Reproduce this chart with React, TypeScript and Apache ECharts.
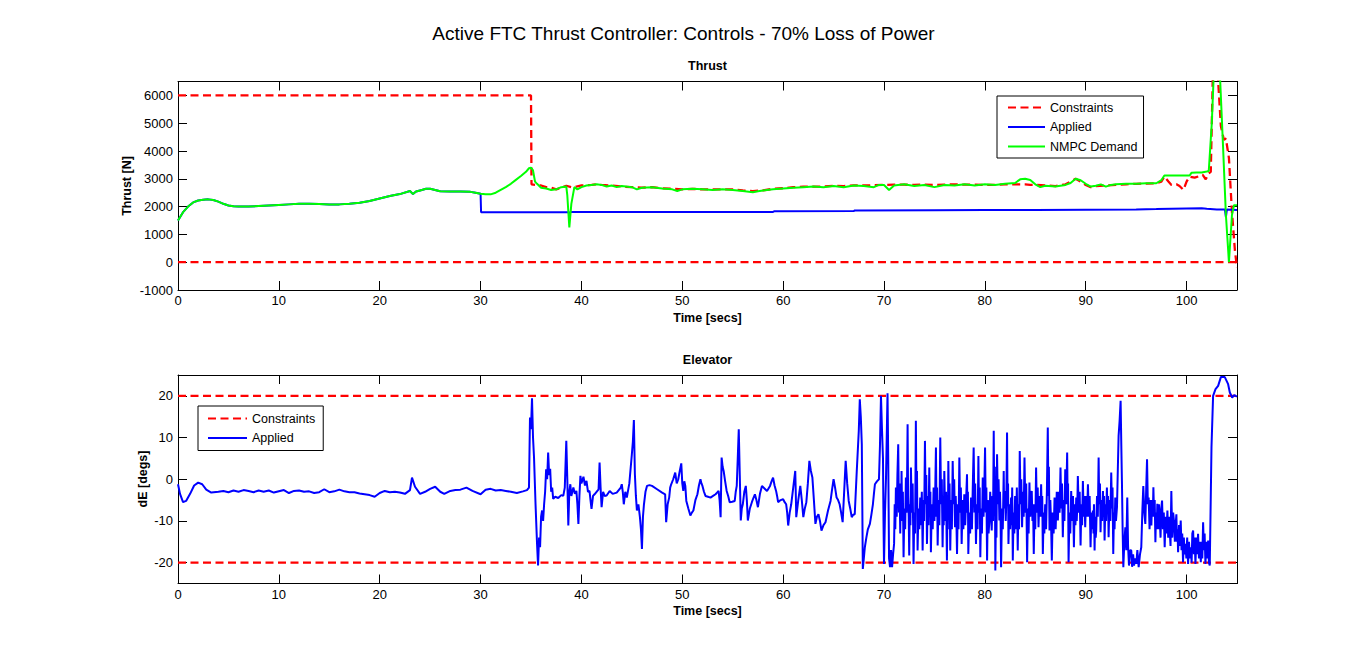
import React, { useEffect, useRef } from "react";
import * as echarts from "echarts";

const MAIN_TITLE = "Active FTC Thrust Controller: Controls - 70% Loss of Power";
const THRUST_TITLE = "Thrust";
const ELEVATOR_TITLE = "Elevator";
const X_NAME = "Time [secs]";
const THRUST_Y_NAME = "Thrust [N]";
const ELEV_Y_NAME = "dE [degs]";
const LEGEND_TOP = ["Constraints", "Applied", "NMPC Demand"];
const LEGEND_BOTTOM = ["Constraints", "Applied"];

const X_MIN = 0;
const X_MAX = 105;
const THRUST_MIN = -1000;
const THRUST_MAX = 6500;
const ELEV_MIN = -25;
const ELEV_MAX = 25;

// Thrust: NMPC demand [t, N]
const thrustDemand: [number, number][] = [
  [0, 1500], [0.5, 1800], [1, 2000], [1.5, 2150], [2, 2220], [2.5, 2250], [3, 2260], [3.5, 2240],
  [4, 2180], [4.5, 2100], [5, 2040], [5.5, 2010], [6, 2000], [7, 2000], [8, 2020], [9, 2040],
  [10, 2060], [11, 2080], [12, 2100], [13, 2100], [14, 2090], [15, 2080], [16, 2080], [17, 2100],
  [18, 2140], [19, 2200], [20, 2290], [21, 2380], [22, 2450], [23, 2560], [23.3, 2450], [23.6, 2540],
  [24, 2580], [24.6, 2640], [25, 2640], [25.5, 2600], [26, 2550], [27, 2540], [28, 2540], [29, 2530],
  [29.5, 2500], [30, 2460], [30.5, 2440], [31, 2440], [31.5, 2500], [32, 2600], [32.5, 2700], [33, 2820],
  [33.5, 2960], [34, 3100], [34.5, 3250], [34.8, 3380], [35, 3400], [35.2, 3300], [35.4, 2900], [35.6, 2820],
  [36, 2680], [36.5, 2650], [37, 2600], [37.5, 2620], [38, 2700], [38.5, 2720], [38.6, 2400], [38.8, 1250],
  [39, 2100], [39.3, 2700], [39.6, 2620], [40, 2700], [40.5, 2760], [41, 2780], [41.5, 2800], [42, 2780],
  [42.5, 2720], [43, 2760], [43.5, 2700], [44, 2740], [45, 2700], [45.5, 2620], [46, 2680], [47, 2700],
  [48, 2650], [49, 2620], [49.5, 2560], [50, 2620], [51, 2640], [52, 2620], [53, 2600], [54, 2620],
  [55, 2600], [56, 2560], [57, 2520], [57.5, 2550], [58, 2580], [59, 2620], [60, 2650], [61, 2680],
  [62, 2700], [63, 2720], [64, 2700], [65, 2740], [66, 2700], [67, 2760], [68, 2740], [69, 2700],
  [69.5, 2780], [70, 2780], [70.5, 2600], [71, 2760], [72, 2800], [73, 2740], [74, 2780], [75, 2700],
  [76, 2780], [77, 2760], [78, 2800], [79, 2760], [80, 2800], [81, 2780], [82, 2820], [83, 2850],
  [83.5, 2980], [84, 3000], [84.5, 2960], [85, 2800], [85.5, 2700], [86, 2750], [87, 2720], [88, 2780],
  [88.5, 2850], [89, 3000], [89.5, 2950], [90, 2820], [90.5, 2720], [91, 2750], [91.5, 2800], [92, 2720],
  [92.5, 2780], [93, 2800], [94, 2820], [95, 2820], [96, 2840], [97, 2840], [97.5, 2950], [97.8, 3120],
  [98, 3120], [99, 3120], [100, 3120], [100.3, 3120], [100.5, 3220], [101, 3230], [101.5, 3230], [102, 3260],
  [102.2, 3280], [102.5, 5000], [102.7, 6800], [103.3, 6800], [103.6, 4300], [103.9, 1700], [104.2, 0],
  [104.5, 1700], [104.7, 2050], [105, 2050],
];

// Thrust: upper constraint [t, N]
const thrustUpper: [number, number][] = [
  [0, 6000], [35, 6000], [35.05, 2800], [35.5, 2780], [36, 2760], [36.5, 2700], [37, 2680], [37.5, 2620],
  [38, 2680], [38.5, 2750], [39, 2700], [39.5, 2720], [40, 2760], [41, 2780], [41.5, 2800], [42, 2780],
  [43, 2760], [44, 2720], [45, 2700], [46, 2680], [47, 2700], [48, 2660], [49, 2640], [50, 2620],
  [51, 2640], [52, 2620], [53, 2620], [54, 2620], [55, 2620], [56, 2580], [57, 2560], [58, 2580],
  [59, 2640], [60, 2660], [61, 2700], [62, 2720], [63, 2720], [64, 2720], [65, 2750], [66, 2740],
  [67, 2760], [68, 2760], [69, 2770], [70, 2780], [71, 2790], [72, 2790], [73, 2780], [74, 2790],
  [75, 2780], [76, 2790], [77, 2800], [78, 2790], [79, 2790], [80, 2780], [81, 2780], [82, 2800],
  [83, 2800], [84, 2800], [84.5, 2780], [85, 2780], [86, 2760], [87, 2740], [88, 2800], [88.5, 2900],
  [89, 3000], [89.5, 2900], [90, 2780], [90.5, 2700], [91, 2740], [92, 2760], [93, 2780], [94, 2800],
  [95, 2820], [96, 2830], [97, 2840], [97.5, 2900], [97.8, 3080], [98.2, 2900], [98.5, 2780], [99, 2800],
  [99.3, 2740], [99.7, 2600], [100, 2900], [100.3, 3080], [100.8, 3040], [101.3, 3100], [101.6, 3140],
  [101.9, 2980], [102.2, 3200], [102.4, 3250], [102.6, 6700], [103.1, 6700], [103.4, 4900], [103.7, 4400],
  [103.9, 4450], [104.2, 3750], [104.5, 1800], [104.8, 400], [105, -200],
];

// Thrust: lower constraint [t, N]
const thrustLower: [number, number][] = [[0, 0], [105, 0]];

// Thrust: applied after t = 30 s (before that it equals the demand)
const thrustAppliedSwitch = 30;
const thrustAppliedAfter: [number, number][] = [
  [30.05, 1800], [35, 1800], [38.7, 1800], [38.8, 1740], [38.9, 1810], [45, 1810], [59, 1810],
  [59.1, 1830], [67, 1840], [67.1, 1860], [75, 1870], [80, 1880], [85, 1880], [90, 1890], [95, 1900],
  [97, 1910], [100, 1930], [101.5, 1940], [102, 1920], [103, 1900], [103.8, 1900], [103.9, 1620],
  [104, 1900], [105, 1880],
];

// Elevator: applied deflection, 0 – 70.5 s [t, deg]
const elevAppliedEarly: [number, number][] = [
  [0, -1.2], [0.2, -3.5], [0.5, -5.5], [0.8, -5.2], [1.2, -3.5], [1.6, -1.5], [2.0, -0.8], [2.4, -1.2],
  [2.8, -2.5], [3.3, -3.2], [4, -3.0], [4.5, -2.8], [5, -3.1], [5.5, -2.7], [6, -3.0], [6.5, -2.6],
  [7, -2.8], [7.5, -3.1], [8, -2.7], [8.5, -3.0], [9, -2.7], [9.5, -3.2], [10, -2.9], [10.5, -2.6],
  [11, -3.3], [11.5, -2.8], [12, -2.7], [12.5, -3.0], [13, -2.9], [13.5, -3.3], [14, -3.1], [14.5, -2.4],
  [15, -3.1], [15.5, -2.9], [16, -2.5], [16.5, -2.9], [17, -3.1], [17.5, -3.1], [18, -3.4], [18.5, -3.6],
  [19, -3.8], [19.5, -4.2], [20, -3.3], [20.5, -2.8], [21, -3.1], [21.5, -3.0], [22, -3.2], [22.5, -3.5],
  [23, -2.6], [23.2, 0.4], [23.5, -1.8], [24, -3.5], [24.5, -3.0], [25, -2.3], [25.5, -1.8], [26, -3.0],
  [26.4, -3.5], [27, -2.8], [27.5, -2.6], [28, -2.5], [28.6, -2.0], [29.2, -2.8], [30, -3.6], [30.5, -2.5],
  [31, -2.3], [31.5, -2.7], [32, -2.6], [32.5, -2.8], [33, -3.0], [33.6, -3.3], [34.2, -2.9], [34.6, -2.6],
  [34.8, -2.0], [34.9, 14.8], [35.0, 12], [35.1, 19.4], [35.2, 10], [35.3, 5.2], [35.45, -6], [35.6, -15.5],
  [35.7, -20.7], [35.8, -14], [35.9, -16.3], [36.0, -9], [36.1, -7.5], [36.2, -10], [36.3, -6], [36.4, -3],
  [36.5, 2.4], [36.6, 0], [36.7, 6.4], [36.8, 1], [36.9, 2.5], [37.0, -3], [37.1, -2], [37.2, -4.7],
  [37.4, -4.2], [37.7, -4.5], [38.0, -3.8], [38.2, -4], [38.35, -2], [38.5, 9.2], [38.6, 0], [38.7, -11.1],
  [38.8, -3], [38.9, -1.2], [39.0, -4], [39.2, -2], [39.35, -3.5], [39.5, -2.8], [39.6, -6], [39.7, -10.7],
  [39.8, -4], [39.9, 0.8], [40.0, -1], [40.2, 0.6], [40.35, -1.5], [40.5, -0.4], [40.65, -3], [40.8, -2.8],
  [40.9, -5], [41, -7.1], [41.15, -4], [41.3, -3.6], [41.5, -3], [41.7, -2.4], [41.8, 4], [41.9, -2],
  [42, -6.7], [42.15, -3], [42.3, -4], [42.5, -3.9], [42.8, -2.8], [43.1, -3.5], [43.5, -3.2], [43.9, -2],
  [44, -1.2], [44.1, -3], [44.2, -6], [44.35, -3], [44.5, -4.4], [44.75, -1], [45, 6], [45.1, 9],
  [45.2, 14.2], [45.3, 1.2], [45.4, -4], [45.5, -7.5], [45.65, -6], [45.8, -9.1], [45.9, -12], [46, -16.7],
  [46.1, -9], [46.2, -6], [46.35, -3], [46.5, -1.6], [46.75, -1.4], [47, -1.6], [47.5, -2.4], [48, -3.2],
  [48.3, -3.6], [48.4, -10.3], [48.55, -6], [48.7, -4.4], [48.8, -2], [48.9, -1.2], [49.1, 0], [49.3, 1.6],
  [49.45, -1], [49.6, 0], [49.75, 2], [49.9, 3.8], [50.0, -1], [50.1, -2.8], [50.2, -0.5], [50.3, -1.6],
  [50.4, -5.2], [50.6, -7], [50.8, -8.7], [50.95, -8], [51.1, -7.5], [51.3, -5], [51.5, -3.6], [51.65, -1.5],
  [51.8, 0], [51.9, -1], [52, -1.6], [52.15, -3], [52.3, -4], [52.55, -4.2], [52.8, -4.4], [53.05, -4],
  [53.3, -3.6], [53.45, -3.2], [53.6, -2.8], [53.7, -5], [53.8, -9.1], [53.85, -2], [53.9, 5.2], [54.0, 3],
  [54.1, 2], [54.25, -0.5], [54.4, -2.8], [54.55, -4], [54.7, -5.5], [54.95, -5.4], [55.2, -5.2], [55.3, -3],
  [55.4, -1.6], [55.5, 5], [55.6, 12], [55.7, 1], [55.8, -9.9], [55.9, -7], [56, -6], [56.15, -3],
  [56.3, -1.6], [56.4, -5], [56.5, -9.9], [56.7, -7], [56.9, -5.5], [57.05, -4.5], [57.2, -3.6], [57.35, -5],
  [57.5, -6.7], [57.7, -3.5], [57.9, -1.6], [58.15, -2.2], [58.4, -2.8], [58.55, -2.2], [58.7, -1.6],
  [58.85, -0.5], [59, 0.4], [59.15, -1.5], [59.3, -2.8], [59.4, -4], [59.5, -5.5], [59.75, -5], [60, -4.8],
  [60.15, -5.5], [60.3, -6], [60.4, -8], [60.5, -11.1], [60.65, -8], [60.8, -6], [61.0, -2], [61.2, 2],
  [61.25, -3], [61.3, -9.1], [61.5, -5], [61.7, -1.6], [61.85, -5], [62, -9.1], [62.15, -7], [62.3, -5.5],
  [62.45, -1], [62.6, 4.4], [62.75, 2], [62.9, 0.4], [63.05, -5], [63.2, -10.7], [63.35, -9], [63.5, -8.4],
  [63.65, -10], [63.8, -12.3], [64.0, -11], [64.2, -10.3], [64.45, -7.5], [64.7, -5.2], [64.85, -2.5],
  [65, 0], [65.15, -2], [65.3, -4.4], [65.45, -5], [65.6, -6], [65.75, -8], [65.9, -10.3], [66.05, -3],
  [66.2, 4.4], [66.35, -1], [66.5, -5.2], [66.65, -7], [66.8, -9.1], [66.95, -8.5], [67.1, -8.4], [67.3, 2],
  [67.5, 11.6], [67.6, 19.2], [67.7, 15], [67.8, 8.4], [67.9, -21.5], [68.0, -19], [68.1, -16.3],
  [68.25, -14], [68.4, -12], [68.6, -10.7], [68.75, -8.5], [68.9, -6], [69.0, -3.5], [69.1, -1.2],
  [69.3, -0.5], [69.5, 0], [69.6, 8], [69.7, 20], [69.8, 12], [69.9, 5], [69.95, -10], [70, -20.3],
  [70.1, -8], [70.2, 0.5], [70.3, 14], [70.35, 20.6], [70.42, 5],
];

// Elevator: applied deflection, dense oscillation 70.5 – 102.3 s [t, deg]
const elevAppliedNoisy: [number, number][] = [
  [70.5, -19], [70.6, -21.1], [70.7, -17], [70.8, -21.1], [70.9, -18],
  [71.0, -15.5], [71.06, -6], [71.12, -12], [71.18, -2], [71.26, -9], [71.33, 1], [71.41, 8.4], [71.48, -8],
  [71.54, -1], [71.61, -13], [71.65, -5], [71.7, -10], [71.74, 2], [71.8, -9], [71.87, -3], [71.94, -18.7],
  [72.02, -7], [72.1, -12], [72.17, 0.4], [72.23, -8], [72.28, -2], [72.34, 13.2], [72.39, -4], [72.45, -9],
  [72.5, -18.3], [72.56, -6], [72.62, -11], [72.67, 2.8], [72.76, -8], [72.84, -1], [72.93, -20.3],
  [73.0, -8], [73.08, -13], [73.16, 14], [73.22, -5], [73.27, 2], [73.33, -17.1], [73.42, -7], [73.5, -12],
  [73.59, -4.4], [73.67, -11], [73.75, -3], [73.83, -17.1], [73.91, -5], [73.98, -10], [74.06, 9.2],
  [74.13, -6], [74.19, 1], [74.26, -15.5], [74.34, -4], [74.41, -11], [74.49, 2.8], [74.54, -8], [74.6, -3],
  [74.65, -17.5], [74.74, -6], [74.83, -12], [74.92, -2], [75.0, -10], [75.07, -4], [75.15, 7.6],
  [75.21, -9], [75.26, -2], [75.32, -15.9], [75.41, -5], [75.49, -11], [75.58, 10], [75.66, -6], [75.73, 0],
  [75.81, -16.3], [75.87, -6], [75.92, -11], [75.98, 2], [76.07, -10], [76.15, -3], [76.24, -19.5],
  [76.29, -6], [76.33, -12], [76.38, 4.4], [76.44, -7], [76.5, -1], [76.57, -17.1], [76.65, -5], [76.73, -12],
  [76.81, 4.4], [76.89, -6], [76.96, 0], [77.04, -11.5], [77.11, -4], [77.17, -9], [77.24, -17.9],
  [77.32, -6], [77.39, -12], [77.47, 5.2], [77.55, -8], [77.62, -2], [77.7, -15.5], [77.79, -5], [77.87, -12],
  [77.96, -3.6], [78.05, -11], [78.14, -5], [78.23, 1.2], [78.27, -8], [78.32, -3], [78.36, -17.9],
  [78.45, -8], [78.54, -13], [78.63, -4.4], [78.72, -12], [78.8, -2], [78.89, 7.6], [78.97, -8], [79.04, -1],
  [79.12, -15.5], [79.2, -6], [79.28, -12], [79.36, 5.6], [79.42, -8], [79.49, -2], [79.55, -18.7],
  [79.63, -7], [79.71, -13], [79.79, 0.4], [79.87, -9], [79.94, -3], [80.02, 7.6], [80.09, -8], [80.15, -2],
  [80.22, -19.5], [80.3, -5], [80.37, -13], [80.45, -9.9], [80.53, -3], [80.6, -8], [80.68, -12.3],
  [80.75, -4], [80.81, -10], [80.88, 11.6], [80.93, -6], [80.99, 3], [81.04, -21.9], [81.1, -8], [81.15, -14],
  [81.21, 6], [81.29, -6], [81.36, 0], [81.44, -9.9], [81.5, -3], [81.55, -8], [81.61, -21.1], [81.7, -7],
  [81.78, -12], [81.87, 2], [81.91, -7], [81.96, -4], [82.0, -2.8], [82.07, -10], [82.13, -5], [82.2, 11.2],
  [82.25, -5], [82.3, -1], [82.34, -15.5], [82.43, -6], [82.51, -12], [82.6, -4.4], [82.66, -11], [82.71, -2],
  [82.77, -19.5], [82.85, -8], [82.92, -13], [83.0, -4], [83.09, -12], [83.17, -2], [83.26, -17.1],
  [83.33, -6], [83.39, -12], [83.46, 6.8], [83.54, -6], [83.61, 0], [83.69, -11.5], [83.77, -3], [83.85, -9],
  [83.93, 5.2], [84.02, -8], [84.1, -1], [84.19, -19.9], [84.27, -7], [84.34, -13], [84.42, -0.8],
  [84.5, -9], [84.57, -4], [84.65, -2.8], [84.72, -10], [84.78, -6], [84.85, -17.9], [84.93, -6], [85.0, -12],
  [85.08, 2.8], [85.16, -8], [85.24, -2], [85.32, -11.5], [85.41, -4], [85.49, -9], [85.58, -1.2],
  [85.64, -9], [85.69, -4], [85.75, -17.9], [85.83, -8], [85.9, -13], [85.98, -6], [86.07, -12], [86.15, -3],
  [86.24, 12.4], [86.3, -4], [86.35, 3], [86.41, -12.3], [86.49, -5], [86.56, -10], [86.64, -19.5],
  [86.73, -8], [86.82, -13], [86.91, -4.4], [87.02, -12], [87.13, -3], [87.24, -9.9], [87.33, -3],
  [87.41, -8], [87.5, 2.8], [87.58, -7], [87.65, -1], [87.73, -13.9], [87.81, -5], [87.89, -10], [87.97, 2.4],
  [88.03, -6], [88.1, -1], [88.16, 6.4], [88.21, -6], [88.25, -1], [88.3, -19.9], [88.39, -8], [88.47, -13],
  [88.56, -2.8], [88.65, -10], [88.74, -4], [88.83, -16.3], [88.91, -6], [88.98, -11], [89.06, -4.4],
  [89.11, -10], [89.17, -6], [89.22, 0.8], [89.31, -8], [89.4, -3], [89.49, -15.9], [89.57, -6], [89.64, -11],
  [89.72, -0.4], [89.8, -9], [89.87, -4], [89.95, -11.5], [90.04, -4], [90.13, -9], [90.22, -1.2],
  [90.31, -9], [90.39, -4], [90.48, -16.3], [90.56, -8], [90.63, -12], [90.71, -7.5], [90.77, -13],
  [90.82, -6], [90.88, -17.1], [90.93, -9], [90.99, -14], [91.04, -12.3], [91.12, -4], [91.2, -9],
  [91.28, 5.2], [91.34, -6], [91.41, -1], [91.47, -12.7], [91.55, -5], [91.63, -10], [91.71, -2.8],
  [91.76, -9], [91.82, -4], [91.87, -14.7], [91.95, -6], [92.02, -10], [92.1, -2], [92.16, -8], [92.21, -4],
  [92.27, -13.9], [92.36, -5], [92.44, -10], [92.53, 1.6], [92.6, -7], [92.66, -2], [92.73, -17.9],
  [92.8, -8], [92.86, -12], [92.93, -4.4], [93.0, -10], [93.1, -6.7], [93.18, 2], [93.26, 10.4],
  [93.36, 14], [93.46, 18.8], [93.53, 8], [93.59, -0.4], [93.66, -12], [93.73, -21.1], [93.83, -15],
  [93.93, -11.5], [94.02, -17], [94.12, -4.4], [94.2, -16], [94.29, -20.7], [94.4, -17], [94.52, -17.1],
  [94.6, -21], [94.7, -18], [94.79, -20.7], [94.9, -19], [95.02, -20.3], [95.12, -17], [95.25, -21.1],
  [95.38, -18], [95.51, -16.3], [95.61, -8], [95.71, -1.6], [95.81, -8], [95.91, -10.7], [96.0, -2],
  [96.08, 4.8], [96.16, -6], [96.24, -4.4], [96.33, -12], [96.42, -5], [96.51, -11.1], [96.58, -5],
  [96.65, -9], [96.71, -1.9], [96.78, -9], [96.84, -5], [96.91, -15.1], [96.97, -8], [97.04, -12],
  [97.1, -5.9], [97.18, -12], [97.26, -6], [97.34, -9.5], [97.42, -14], [97.49, -7], [97.57, -5.1],
  [97.65, -12], [97.74, -8], [97.83, -16.3], [97.92, -9], [98.01, -13], [98.1, -7.5], [98.18, -14],
  [98.25, -9], [98.33, -12.3], [98.41, -16], [98.45, -9], [98.49, -2.8], [98.58, -14], [98.67, -8],
  [98.76, -10.3], [98.84, -15], [98.91, -11], [98.99, -8.4], [99.05, -15], [99.1, -12], [99.16, -17.5],
  [99.25, -11], [99.33, -16], [99.42, -9.9], [99.5, -17], [99.57, -13], [99.65, -19.9], [99.73, -14],
  [99.81, -18], [99.89, -15.5], [99.98, -19], [100.06, -14], [100.15, -20.3], [100.24, -15], [100.33, -19],
  [100.42, -16.3], [100.5, -20], [100.57, -13], [100.65, -12.3], [100.73, -18], [100.8, -14],
  [100.88, -20.3], [100.97, -14], [101.05, -18], [101.14, -13.1], [101.23, -19], [101.32, -15],
  [101.41, -19.9], [101.49, -15], [101.56, -19], [101.64, -10.3], [101.72, -17], [101.79, -13],
  [101.87, -20.3], [101.96, -15], [102.05, -19], [102.14, -14.7], [102.22, -20], [102.3, -20.7],
];

// Elevator: applied deflection, final saturation 102.4 – 105 s [t, deg]
const elevAppliedLate: [number, number][] = [
  [102.47, 7.6], [102.63, 20], [102.87, 21.6], [103.13, 22.4], [103.4, 24.5], [103.79, 24.5], [104.12, 22.8],
  [104.29, 20.8], [104.52, 19.6], [104.72, 20.2], [105, 19.8],
];

const elevUpper: [number, number][] = [[0, 20], [105, 20]];
const elevLower: [number, number][] = [[0, -20], [105, -20]];

const FONT = "'Liberation Sans', Arial, Helvetica, sans-serif";
const RED = "#ff0000";
const BLUE = "#0000ff";
const GREEN = "#00ff00";

const App: React.FC = () => {
  const ref = useRef<HTMLDivElement>(null);

  useEffect(() => {
    if (!ref.current) return;
    const chart = echarts.init(ref.current, undefined, { renderer: "svg" });

    const thrustApplied: [number, number][] = [
      ...thrustDemand.filter((p) => p[0] <= thrustAppliedSwitch),
      ...thrustAppliedAfter,
    ];
    const elevApplied: [number, number][] = [
      ...elevAppliedEarly,
      ...elevAppliedNoisy,
      ...elevAppliedLate,
    ];

    const axisLine = { show: true, onZero: false, lineStyle: { color: "#000", width: 1 } };
    const axisTick = { show: true, inside: true, length: 9, lineStyle: { color: "#000", width: 1 } };
    const labelStyle = { color: "#000", fontSize: 13, fontFamily: FONT };
    const nameStyle = { color: "#000", fontSize: 12.5, fontWeight: "bold", fontFamily: FONT };

    const xBottom = (grid: number) => ({
      type: "value",
      gridIndex: grid,
      min: X_MIN,
      max: X_MAX,
      interval: 10,
      position: "bottom",
      axisLine,
      axisTick,
      splitLine: { show: false },
      axisLabel: {
        ...labelStyle,
        margin: 4,
        formatter: (v: number) => (v % 10 === 0 ? String(v) : ""),
      },
      name: X_NAME,
      nameLocation: "middle",
      nameGap: 21,
      nameTextStyle: nameStyle,
    });
    const xTop = (grid: number) => ({
      type: "value",
      gridIndex: grid,
      min: X_MIN,
      max: X_MAX,
      interval: 10,
      position: "top",
      axisLine,
      axisTick,
      splitLine: { show: false },
      axisLabel: { show: false },
    });

    const lineSeries = (
      name: string,
      data: [number, number][],
      color: string,
      axis: number,
      dashed: boolean
    ) => ({
      type: "line",
      name,
      data,
      xAxisIndex: axis,
      yAxisIndex: axis,
      symbol: "none",
      showSymbol: false,
      clip: true,
      lineStyle: { color, width: dashed ? 2.3 : 2, type: dashed ? [8, 4.5] : "solid" },
      itemStyle: { color },
      emphasis: { disabled: true },
    });

    const legendBase = {
      orient: "vertical",
      backgroundColor: "#fff",
      borderColor: "#000",
      borderWidth: 1,
      borderRadius: 0,
      itemHeight: 12,
      itemGap: 6.5,
      selectedMode: false,
      itemStyle: { opacity: 0, color: "rgba(0,0,0,0)", borderWidth: 0 },
      textStyle: { color: "#000", fontSize: 12.5, fontFamily: FONT },
    };

    const yNameText = (text: string, x: number, y: number) => ({
      type: "text",
      x,
      y,
      rotation: Math.PI / 2,
      style: {
        text,
        font: `bold 12.5px ${FONT}`,
        fill: "#000",
        textAlign: "center",
        textVerticalAlign: "middle",
      },
    });

    chart.setOption({
      animation: false,
      backgroundColor: "#fff",
      grid: [
        { left: 178, top: 81.5, width: 1059, height: 208.5, containLabel: false },
        { left: 178, top: 375, width: 1059, height: 208.5, containLabel: false },
      ],
      xAxis: [xBottom(0), xTop(0), xBottom(1), xTop(1)],
      yAxis: [
        {
          type: "value",
          gridIndex: 0,
          min: THRUST_MIN,
          max: THRUST_MAX,
          interval: 1000,
          position: "left",
          axisLine,
          axisTick,
          splitLine: { show: false },
          axisLabel: {
            ...labelStyle,
            margin: 5,
            formatter: (v: number) => (v % 1000 === 0 ? String(v) : ""),
          },
        },
        {
          type: "value",
          gridIndex: 0,
          min: THRUST_MIN,
          max: THRUST_MAX,
          interval: 1000,
          position: "right",
          axisLine,
          axisTick,
          splitLine: { show: false },
          axisLabel: { show: false },
        },
        {
          type: "value",
          gridIndex: 1,
          min: ELEV_MIN,
          max: ELEV_MAX,
          splitNumber: 5,
          position: "left",
          axisLine,
          axisTick,
          splitLine: { show: false },
          axisLabel: {
            ...labelStyle,
            margin: 5,
            formatter: (v: number) => (Math.abs(v) === 25 ? "" : String(v)),
          },
        },
        {
          type: "value",
          gridIndex: 1,
          min: ELEV_MIN,
          max: ELEV_MAX,
          splitNumber: 5,
          position: "right",
          axisLine,
          axisTick,
          splitLine: { show: false },
          axisLabel: { show: false },
        },
      ],
      legend: [
        {
          ...legendBase,
          data: LEGEND_TOP,
          left: 997,
          top: 96,
          itemWidth: 37,
          padding: [5, 6, 5, 10],
        },
        {
          ...legendBase,
          data: LEGEND_BOTTOM,
          left: 198,
          top: 406,
          itemWidth: 39,
          padding: [6, 8, 6, 9],
        },
      ],
      graphic: [
        {
          type: "text",
          x: 683.5,
          y: 33,
          style: {
            text: MAIN_TITLE,
            font: `19px ${FONT}`,
            fill: "#000",
            textAlign: "center",
            textVerticalAlign: "middle",
          },
        },
        {
          type: "text",
          x: 707.5,
          y: 66,
          style: {
            text: THRUST_TITLE,
            font: `bold 12.5px ${FONT}`,
            fill: "#000",
            textAlign: "center",
            textVerticalAlign: "middle",
          },
        },
        {
          type: "text",
          x: 707.5,
          y: 360,
          style: {
            text: ELEVATOR_TITLE,
            font: `bold 12.5px ${FONT}`,
            fill: "#000",
            textAlign: "center",
            textVerticalAlign: "middle",
          },
        },
        yNameText(THRUST_Y_NAME, 127, 186),
        yNameText(ELEV_Y_NAME, 143, 479),
      ],
      series: [
        lineSeries("Constraints", thrustUpper, RED, 0, true),
        lineSeries("Constraints", thrustLower, RED, 0, true),
        lineSeries("Applied", thrustApplied, BLUE, 0, false),
        lineSeries("NMPC Demand", thrustDemand, GREEN, 0, false),
        lineSeries("Constraints", elevUpper, RED, 2, true),
        lineSeries("Constraints", elevLower, RED, 2, true),
        lineSeries("Applied", elevApplied, BLUE, 2, false),
      ],
    });

    return () => chart.dispose();
  }, []);

  return (
    <div
      ref={ref}
      style={{ position: "absolute", left: 0, top: 0, width: 1367, height: 652, background: "#fff" }}
    />
  );
};

export default App;
